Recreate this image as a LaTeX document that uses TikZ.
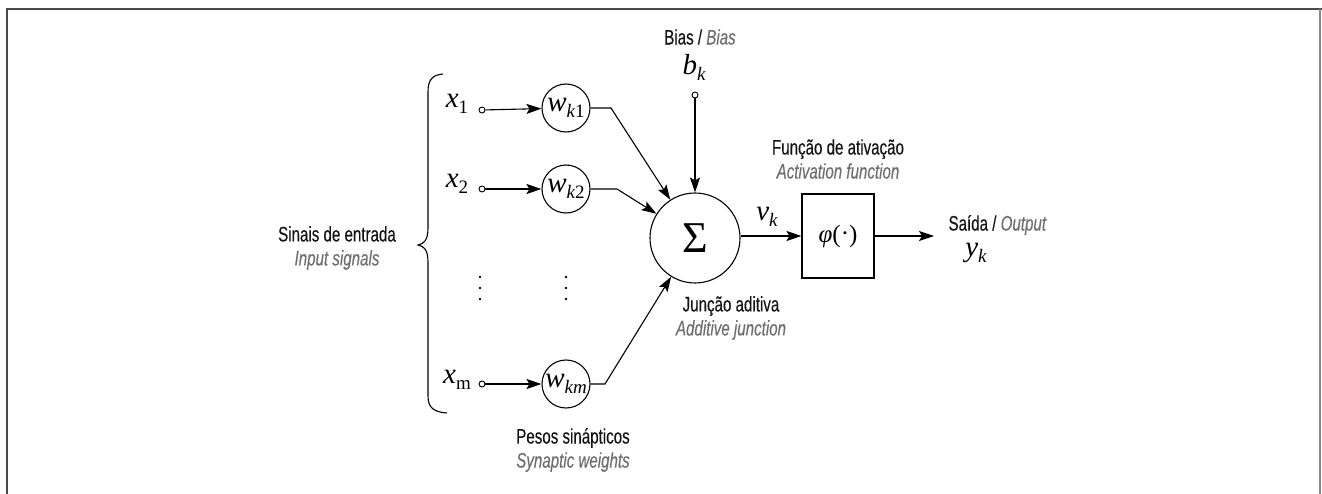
\documentclass[tikz,border=0pt]{standalone}
\usepackage{fontspec}
\setmainfont[FakeStretch=0.72,FakeBold=0.3]{Liberation Sans}
\newfontfamily\tms{Liberation Serif}
\usetikzlibrary{arrows.meta}
\definecolor{txt}{HTML}{141414}
\definecolor{eng}{HTML}{6E6F72}
\definecolor{frameA}{HTML}{4A4A4A}
\definecolor{frameB}{HTML}{8A8A8A}
\newcommand\pttxt[1]{{\color{txt}#1}}
\newcommand\entxt[1]{{\color{eng}\itshape #1}}
\newcommand\vr[2]{{\tms\fontsize{29}{29}\selectfont\itshape #1\raisebox{-6pt}{\fontsize{19}{19}\selectfont #2}}}
\begin{document}
\begin{tikzpicture}[x=1pt,y=-1pt,
  line width=1.1pt,
  lbl/.style={font=\fontsize{21}{24}\selectfont, align=center, inner sep=0pt},
  wcirc/.style={draw, circle, minimum size=48pt, inner sep=0pt},
  dotc/.style={draw, circle, minimum size=6pt, inner sep=0pt, line width=0.9pt, fill=white},
  arr/.style={-{Stealth[length=15pt,width=10pt,inset=3pt]}},
  var/.style={inner sep=0pt}]
\useasboundingbox (0,0) rectangle (1322,494);
% frame
\draw[frameA, line width=2pt] (7,494) -- (7,9) -- (1322,9);
\draw[frameB, line width=1.3pt] (1320,9) -- (1320,494);

% brace
\draw (443,74) .. controls (432,75) and (428,80) .. (428,92) -- (428,228)
  .. controls (428,240) and (424,244) .. (418,245)
  .. controls (424,246) and (428,250) .. (428,262) -- (428,396)
  .. controls (428,408) and (434,412) .. (447,413);

\node[lbl] (inlbl) at (337,248) {\pttxt{Sinais de entrada}\\\entxt{Input signals}};

% inputs
\node[var] (x1) at (457,104) {\vr{x}{\upshape 1}};
\node[var] (x2) at (457,184) {\vr{x}{\upshape 2}};
\node[var] (xm) at (457,380) {\vr{x}{\upshape m}};
\node[dotc] (c1) at (482,110) {};
\node[dotc] (c2) at (482,189) {};
\node[dotc] (cm) at (482,384) {};

\node[wcirc] (w1) at (566,108) {\vr{w}{k\upshape 1}};
\node[wcirc] (w2) at (566,189) {\vr{w}{k\upshape 2}};
\node[wcirc] (wm) at (566,384) {\vr{w}{km}};

% vertical ellipses
\fill (480,277) circle (1.3pt) (480,288) circle (1.3pt) (480,299) circle (1.3pt);
\fill (566,277) circle (1.3pt) (566,288) circle (1.3pt) (566,299) circle (1.3pt);

\draw[arr] (c1) -- (w1);
\draw[arr] (c2) -- (w2);
\draw[arr] (cm) -- (wm);

% summing junction
\node[draw, circle, minimum size=90pt, inner sep=0pt] (S) at (695,238) {\tms\fontsize{44}{44}\selectfont Σ};

\coordinate (b1) at (611,108);
\coordinate (b2) at (617,189);
\coordinate (bm) at (605,384);
\draw[arr] (w1.east) -- (b1) -- (S);
\draw[arr] (w2.east) -- (b2) -- (S);
\draw[arr] (wm.east) -- (bm) -- (S);

% bias
\node[lbl] (biaslbl) at (700,37) {\pttxt{Bias /} \entxt{Bias}};
\node[var] (bk) at (694,67) {\vr{b}{k}};
\node[dotc] (cb) at (695,95) {};
\draw[arr] (cb) -- (S);

\node[lbl] (sumlbl) at (731,318) {\pttxt{Junção aditiva}\\\entxt{Additive junction}};

% activation
\node[draw, minimum width=72pt, minimum height=84pt, inner sep=0pt] (phi) at (838,236)
  {\tms\fontsize{25}{25}\selectfont{\itshape φ}(\raisebox{1pt}{·})};
\node[lbl] (actlbl) at (838,159) {\pttxt{Função de ativação}\\\entxt{Activation function}};
\draw[arr] (S.east |- phi.west) -- (phi.west);
\node[var] (vk) at (767,217) {\vr{v}{k}};

\coordinate (out) at (934,236);
\draw[arr] (phi.east) -- (out);
\node[lbl, anchor=west] (outlbl) at (948,225) {\pttxt{Saída /} \entxt{Output}};
\node[var] (yk) at (976,253) {\vr{y}{k}};

\node[lbl] (wlbl) at (573,450) {\pttxt{Pesos sinápticos}\\\entxt{Synaptic weights}};
\end{tikzpicture}
\end{document}
